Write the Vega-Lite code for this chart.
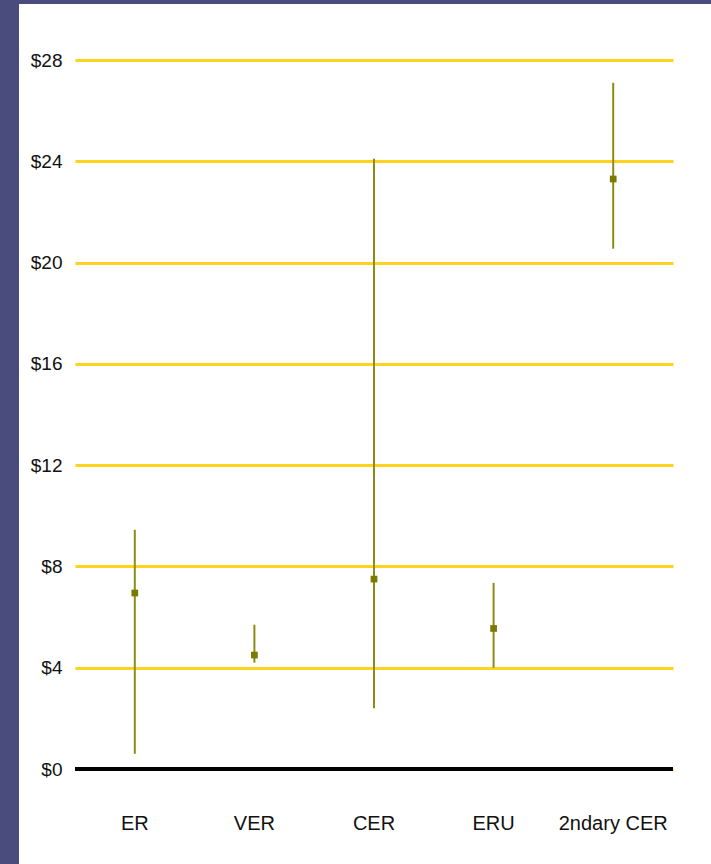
{
  "$schema": "https://vega.github.io/schema/vega-lite/v6.json",
  "autosize": {"type": "none"},
  "width": 598,
  "height": 748,
  "padding": {"left": 75, "top": 60, "right": 38, "bottom": 56},
  "background": "#4b4c7e",
  "config": {
    "view": {"fill": "white", "stroke": "white", "strokeWidth": 112},
    "font": "Liberation Sans"
  },
  "layer": [
    {
      "data": {"values": [{"v": 0}]},
      "mark": {"type": "rule", "color": "black", "strokeWidth": 4},
      "encoding": {
        "y": {"field": "v", "type": "quantitative", "title": null,
          "scale": {"domain": [-1.54, 28], "nice": false, "zero": false},
          "axis": {"values": [0, 4, 8, 12, 16, 20, 24, 28], "labelExpr": "'$' + datum.value", "domain": false, "ticks": false,
            "grid": true, "gridColor": "#FFD21F", "gridWidth": 3, "gridOpacity": 1,
            "labelFontSize": 19, "labelColor": "#111111", "labelPadding": 13, "labelFont": "Liberation Sans"}
        }
      }
    },
    {
      "data": {"values": [
        {"cat": "ER", "low": 0.6, "mid": 6.95, "high": 9.45},
        {"cat": "VER", "low": 4.2, "mid": 4.5, "high": 5.7},
        {"cat": "CER", "low": 2.4, "mid": 7.5, "high": 24.1},
        {"cat": "ERU", "low": 4.0, "mid": 5.55, "high": 7.35},
        {"cat": "2ndary CER", "low": 20.55, "mid": 23.3, "high": 27.1}
      ]},
      "encoding": {
        "x": {"field": "cat", "type": "nominal", "sort": null, "title": null,
          "scale": {"paddingInner": 0, "paddingOuter": 0},
          "axis": {"domain": false, "ticks": false, "labelAngle": 0, "labelFontSize": 20, "labelColor": "#111111", "labelPadding": 5, "labelFont": "Liberation Sans"}
        }
      },
      "layer": [
        {
          "mark": {"type": "rule", "color": "#8c8c14", "strokeWidth": 2},
          "encoding": {
            "y": {"field": "low", "type": "quantitative"},
            "y2": {"field": "high"}
          }
        },
        {
          "mark": {"type": "square", "color": "#7a7a00", "opacity": 1, "size": 45},
          "encoding": {
            "y": {"field": "mid", "type": "quantitative"}
          }
        }
      ]
    }
  ]
}
